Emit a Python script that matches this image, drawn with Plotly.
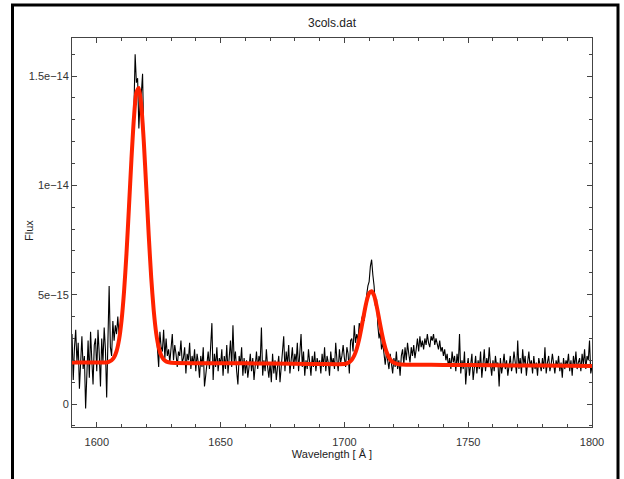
import plotly.graph_objects as go

# ---------------- data ----------------
wl_start = 1590.0
wl_step = 0.5
# observed flux, units of 1e-15, sampled every 0.5 A from 1590 to 1800
flux_e15 = [
    3.2, 1.1, 2.6, 3.4, 1.9, 2.8, 0.7, 2.4, 3.1, 1.6,      # 1590
    2.2, -0.2, 1.8, 2.9, 1.2, 3.3, 2.0, 0.9, 2.7, 3.0,     # 1595
    1.5, 3.4, 2.3, 0.8, 3.0, 1.9, 3.5, 2.5, 0.3, 3.6,      # 1600
    5.4, 2.6, 2.2, 3.8, 2.9, 3.6, 3.2, 4.0, 3.1, 3.5,      # 1605
    3.9, 4.6, 5.0, 6.1, 7.0, 7.6, 9.2, 10.1, 11.0, 12.5,   # 1610
    13.4, 16.0, 14.7, 14.9, 12.6, 13.9, 14.2, 15.1, 12.1, 11.0,  # 1615
    9.6, 9.0, 7.9, 6.8, 5.6, 5.1, 4.5, 3.6, 3.4, 2.6,      # 1620
    1.7, 3.3, 2.6, 2.4, 3.4, 2.1, 3.0, 2.2, 2.5, 1.9,      # 1625
    2.5, 3.2, 2.0, 2.7, 2.3, 1.7, 2.4, 2.2, 2.9, 1.9,      # 1630
    2.1, 2.6, 1.4, 2.3, 2.0, 2.8, 1.6, 2.2, 1.8, 2.5,      # 1635
    1.5, 2.3, 1.9, 1.2, 2.2, 1.7, 2.6, 0.8, 1.3, 2.0,      # 1640
    2.4, 1.6, 2.9, 3.7, 1.1, 2.3, 1.7, 2.6, 1.5, 2.1,      # 1645
    1.8, 2.5, 1.3, 2.2, 1.6, 2.7, 1.4, 2.0, 2.9, 1.7,      # 1650
    3.6, 1.9, 2.4, 1.5, 0.9, 2.2, 1.8, 2.6, 1.3, 2.1,      # 1655
    1.4, 2.0, 1.2, 1.7, 2.3, 1.5, 2.1, 1.1, 1.8, 2.4,      # 1660
    1.6, 2.2, 1.9, 3.5, 1.3, 2.0, 1.5, 2.5, 1.7, 1.2,      # 1665
    1.9, 1.0, 2.3, 1.4, 2.0, 1.1, 1.7, 2.2, 1.0, 1.6,      # 1670
    2.2, 3.1, 1.5, 2.4, 1.8, 2.7, 1.4, 2.1, 2.6, 1.6,      # 1675
    2.3, 1.9, 2.8, 1.5, 2.2, 3.2, 1.7, 2.4, 1.3, 2.0,      # 1680
    1.6, 2.5, 1.9, 1.3, 2.2, 1.7, 2.4, 1.5, 2.1, 1.8,      # 1685
    2.0, 1.4, 2.3, 1.7, 2.6, 1.5, 2.2, 1.9, 1.3, 2.4,      # 1690
    1.8, 2.1, 1.6, 2.8, 2.0, 1.5, 2.5, 1.9, 2.2, 2.7,      # 1695
    2.1, 1.7, 2.6, 2.3, 1.4, 2.9, 3.0, 2.4, 3.6, 2.8,      # 1700
    3.2, 2.9, 3.7, 3.3, 3.9, 4.1, 3.8, 4.6, 5.0, 5.4,      # 1705
    5.6, 6.3, 6.6, 5.9, 5.4, 4.5, 4.8, 3.6, 3.0, 3.3,      # 1710
    2.5, 2.8, 2.2, 1.8, 2.4, 2.0, 1.6, 2.3, 1.9, 1.4,      # 1715
    2.1, 1.7, 2.4, 1.6, 2.0, 1.3, 2.2, 2.5, 1.8, 2.6,      # 1720
    2.0, 2.8, 2.3, 1.9, 2.6, 2.2, 2.7, 2.1, 2.5, 3.0,      # 1725
    2.4, 3.1, 2.6, 2.9, 2.5, 3.0, 2.7, 3.2, 2.8, 2.6,      # 1730
    3.1, 2.9, 3.2, 2.7, 3.0, 2.8, 2.5, 2.9, 2.4, 2.6,      # 1735
    2.2, 2.5, 2.0, 2.3, 1.7, 2.1, 1.6, 2.4, 1.9, 2.2,      # 1740
    1.5, 2.3, 1.8, 3.2, 1.4, 2.0, 1.6, 2.4, 0.9, 1.7,      # 1745
    2.1, 1.3, 1.9, 2.3, 1.1, 1.8, 2.2, 1.4, 2.0, 1.6,      # 1750
    2.4, 1.2, 1.9, 2.5, 1.5, 2.1, 1.7, 2.6, 1.8, 1.3,      # 1755
    2.0, 1.5, 2.2, 1.7, 1.9, 0.8, 2.1, 1.4, 1.8, 2.3,      # 1760
    1.6, 2.0, 1.3, 1.9, 2.2, 1.5, 1.8, 2.4, 1.7, 1.4,      # 1765
    2.9, 1.6, 2.1, 1.4, 2.5, 1.8, 2.2, 1.3, 1.9, 2.4,      # 1770
    1.7, 2.0, 1.4, 2.2, 1.6, 1.9, 1.3, 2.1, 1.8, 1.5,      # 1775
    2.1, 1.6, 2.6, 1.4, 1.9, 2.2, 1.5, 1.8, 2.3, 1.7,      # 1780
    1.4, 2.0, 1.7, 2.2, 1.5, 1.9, 1.2, 2.1, 1.6, 2.0,      # 1785
    1.8, 2.3, 1.5, 2.0, 1.3, 2.2, 1.7, 2.4, 1.6, 1.9,      # 1790
    2.1, 1.5, 2.3, 1.8, 2.5, 1.6, 2.2, 2.0, 2.9, 1.4,      # 1795
    1.7,                                                   # 1800
]

# fitted model (two gaussians on a continuum)
fit_wl = [1590, 1600, 1604, 1605, 1606, 1607, 1608, 1609, 1610, 1611, 1612,
          1613, 1614, 1615, 1616, 1617, 1618, 1619, 1620, 1621, 1622, 1623,
          1624, 1625, 1626, 1627, 1628, 1629, 1630, 1640, 1660, 1680, 1690,
          1700, 1701, 1702, 1703, 1704, 1705, 1706, 1707, 1708, 1709, 1710,
          1711, 1712, 1713, 1714, 1715, 1716, 1717, 1718, 1719, 1720, 1721,
          1722, 1725, 1740, 1760, 1780, 1800]
fit_e15 = [1.90, 1.90, 1.90, 1.94, 2.00, 2.14, 2.42, 2.94, 3.81, 5.12, 6.88,
           8.99, 11.18, 13.06, 14.24, 14.45, 13.63, 11.99, 9.87, 7.69, 5.77, 4.28,
           3.24, 2.60, 2.23, 2.04, 1.95, 1.91, 1.89, 1.87, 1.86, 1.84, 1.83,
           1.83, 1.86, 1.92, 2.03, 2.22, 2.53, 2.98, 3.55, 4.16, 4.71, 5.07,
           5.16, 4.96, 4.50, 3.91, 3.31, 2.79, 2.39, 2.13, 1.97, 1.89, 1.85,
           1.82, 1.80, 1.79, 1.77, 1.76, 1.74]

y_tickvals = [0, 5e-15, 1e-14, 1.5e-14]
y_ticktext = ["0", "5e\u221215", "1e\u221214", "1.5e\u221214"]
x_tickvals = [1600, 1650, 1700, 1750, 1800]

title_text = "3cols.dat"
x_title = "Wavelength [ \u00c5 ]"
y_title = "Flux"

# ---------------- figure ----------------
flux = [v * 1e-15 for v in flux_e15]
fit = [v * 1e-15 for v in fit_e15]

FONT = "Liberation Sans, Arial, Helvetica, sans-serif"
AX = "#444444"

fig = go.Figure()
fig.add_trace(go.Scatter(
    x0=wl_start, dx=wl_step, y=flux, mode="lines",
    line=dict(color="black", width=1.1), showlegend=False, hoverinfo="skip"))
fig.add_trace(go.Scatter(
    x=fit_wl, y=fit, mode="lines",
    line=dict(color="#ff2200", width=4, shape="spline", smoothing=0.6),
    showlegend=False, hoverinfo="skip"))

fig.update_layout(
    width=624, height=479,
    margin=dict(l=72, r=32, t=38, b=52, autoexpand=False),
    paper_bgcolor="white", plot_bgcolor="white",
    font=dict(family=FONT, size=11, color="#333333"),
    title=dict(text=title_text, x=0.5, xref="paper", xanchor="center",
               y=1 - 23 / 479, yref="container", yanchor="middle",
               font=dict(family=FONT, size=12, color="#222222")),
    xaxis=dict(range=[1590, 1800], tickmode="array", tickvals=x_tickvals,
               ticks="inside", ticklen=5, tickwidth=1, tickcolor=AX,
               ticklabelstandoff=5,
               minor=dict(tickmode="linear", tick0=1600, dtick=10, ticks="inside",
                          ticklen=3, tickcolor=AX, showgrid=False),
               showline=True, linecolor=AX, linewidth=1, mirror="allticks",
               showgrid=False, zeroline=False,
               tickfont=dict(size=11, color="#333333"),
               title=dict(text=x_title, standoff=2,
                          font=dict(size=11, color="#222222"))),
    yaxis=dict(range=[-1.05e-15, 16.74e-15], tickmode="array",
               tickvals=y_tickvals, ticktext=y_ticktext,
               ticks="inside", ticklen=5, tickwidth=1, tickcolor=AX,
               minor=dict(tickmode="linear", tick0=0, dtick=1e-15, ticks="inside",
                          ticklen=3, tickcolor=AX, showgrid=False),
               showline=True, linecolor=AX, linewidth=1, mirror="allticks",
               showgrid=False, zeroline=False,
               tickfont=dict(size=11, color="#333333")),
    annotations=[dict(text=y_title, xref="paper", yref="paper",
                      x=(29 - 72) / 520, y=(427 - 231) / 389,
                      xanchor="center", yanchor="middle", textangle=-90,
                      showarrow=False, font=dict(size=11, color="#222222"))],
    shapes=[dict(type="rect", xref="paper", yref="paper",
                 x0=(12.5 - 72) / 520, x1=(618 - 72) / 520,
                 y0=(427 - 500) / 389, y1=(427 - 5) / 389,
                 line=dict(color="black", width=3), layer="above")],
)

fig.write_html("out.html",
               config={"displayModeBar": False},
               post_script="document.body.style.margin='0';"
                           "document.documentElement.style.overflow='hidden';")
